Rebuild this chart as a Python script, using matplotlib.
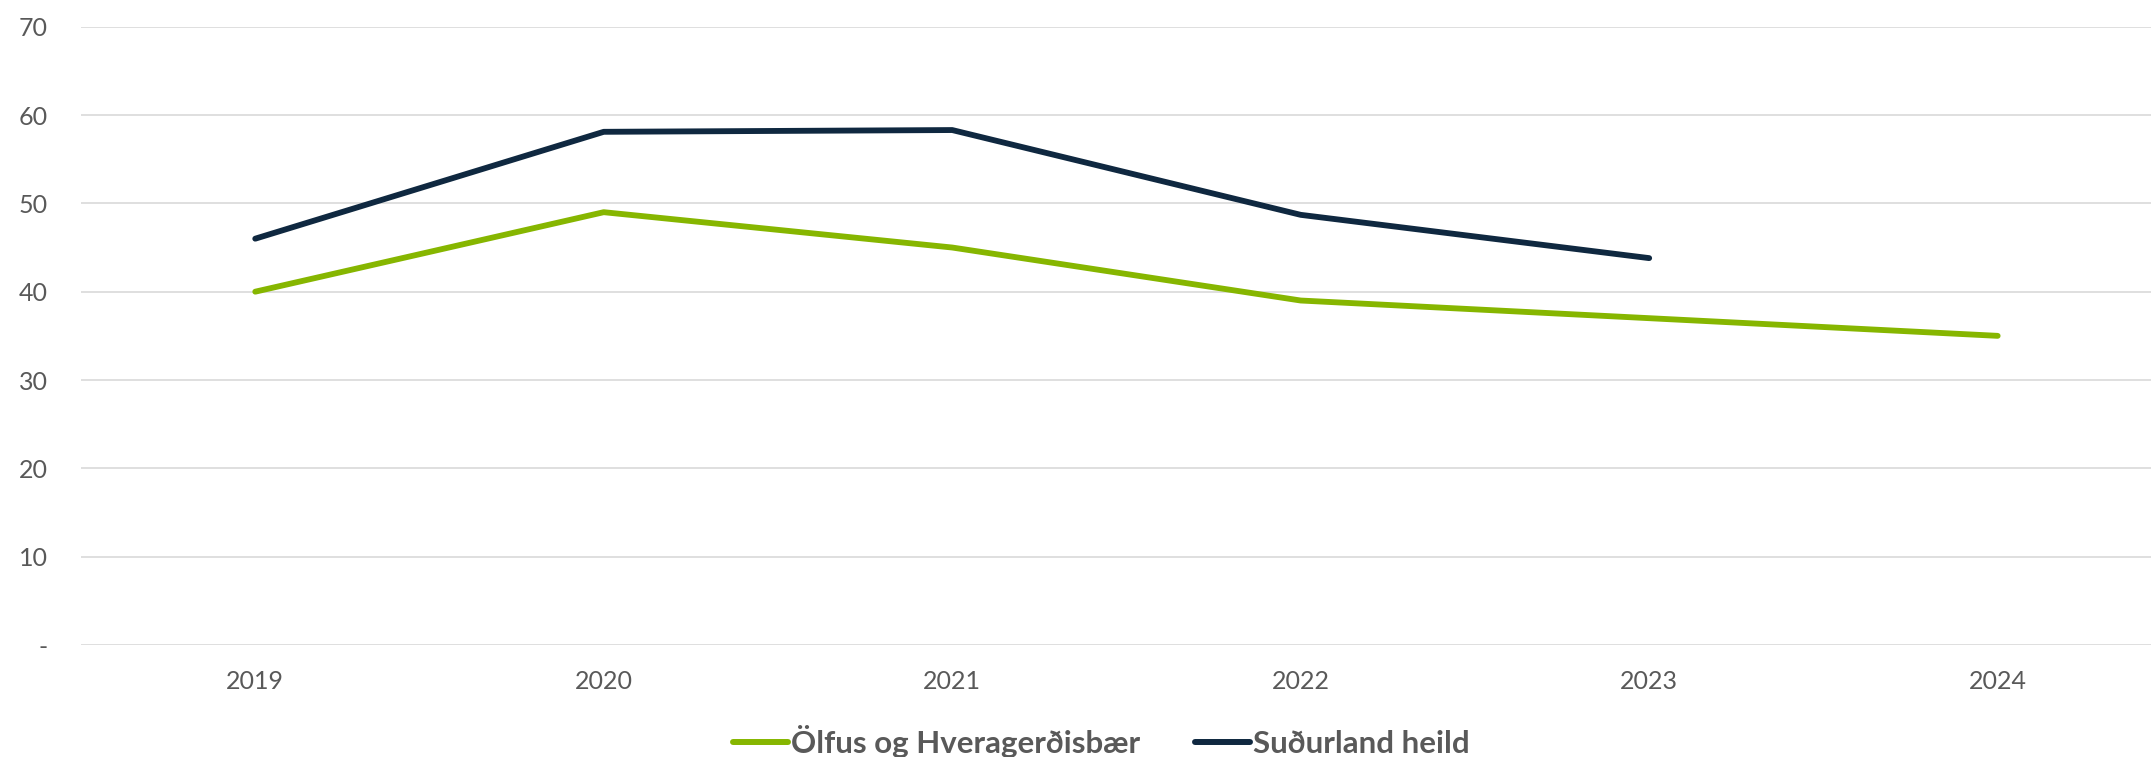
import matplotlib
matplotlib.use("Agg")
import matplotlib.pyplot as plt

years = ["2019", "2020", "2021", "2022", "2023", "2024"]
olfus = [40, 49, 45, 39, 37, 35]
sudurland = [46, 58.1, 58.3, 48.7, 43.8]
series_names = ["Ölfus og Hveragerðisbær", "Suðurland heild"]
yticks = [0, 10, 20, 30, 40, 50, 60, 70]
ytick_labels = ["-", "10", "20", "30", "40", "50", "60", "70"]

plt.rcParams['font.family'] = ['Lato', 'DejaVu Sans']

W, H = 2151, 757
fig = plt.figure(figsize=(W / 100, H / 100), dpi=100)
left = 81 / W
bottom = 1 - 645 / H
top = 1 - 26.7 / H
ax = fig.add_axes([left, bottom, 1 - left, top - bottom])

green = "#86b600"
navy = "#0f2840"
txt = "#595959"

x1 = list(range(len(olfus)))
x2 = list(range(len(sudurland)))
ax.plot(x1, olfus, color=green, lw=4.2, solid_capstyle="round", solid_joinstyle="round", label=series_names[0], zorder=3)
ax.plot(x2, sudurland, color=navy, lw=4.2, solid_capstyle="round", solid_joinstyle="round", label=series_names[1], zorder=3)

ax.set_xlim(-0.5, 5.44)
ax.set_ylim(0, 70)
ax.set_yticks(yticks)
ax.set_yticklabels(ytick_labels)
ax.set_xticks(range(len(years)))
ax.set_xticklabels(years)
ax.grid(axis="y", color="#d9d9d9", lw=1.2)
ax.set_axisbelow(True)
for s in ax.spines.values():
    s.set_visible(False)
ax.tick_params(axis="both", length=0, labelsize=18, labelcolor=txt)
ax.tick_params(axis="y", pad=24)
ax.tick_params(axis="x", pad=18)

leg = fig.legend(loc="center", bbox_to_anchor=(0.512, 0.021), ncol=2, frameon=False,
                 handlelength=1.76, handletextpad=0.1, columnspacing=1.76,
                 prop={"weight": "bold", "size": 22.5})
for t in leg.get_texts():
    t.set_color(txt)
for l in leg.get_lines():
    l.set_linewidth(4.3)
    l.set_solid_capstyle("round")

fig.savefig("out.png", dpi=100)
